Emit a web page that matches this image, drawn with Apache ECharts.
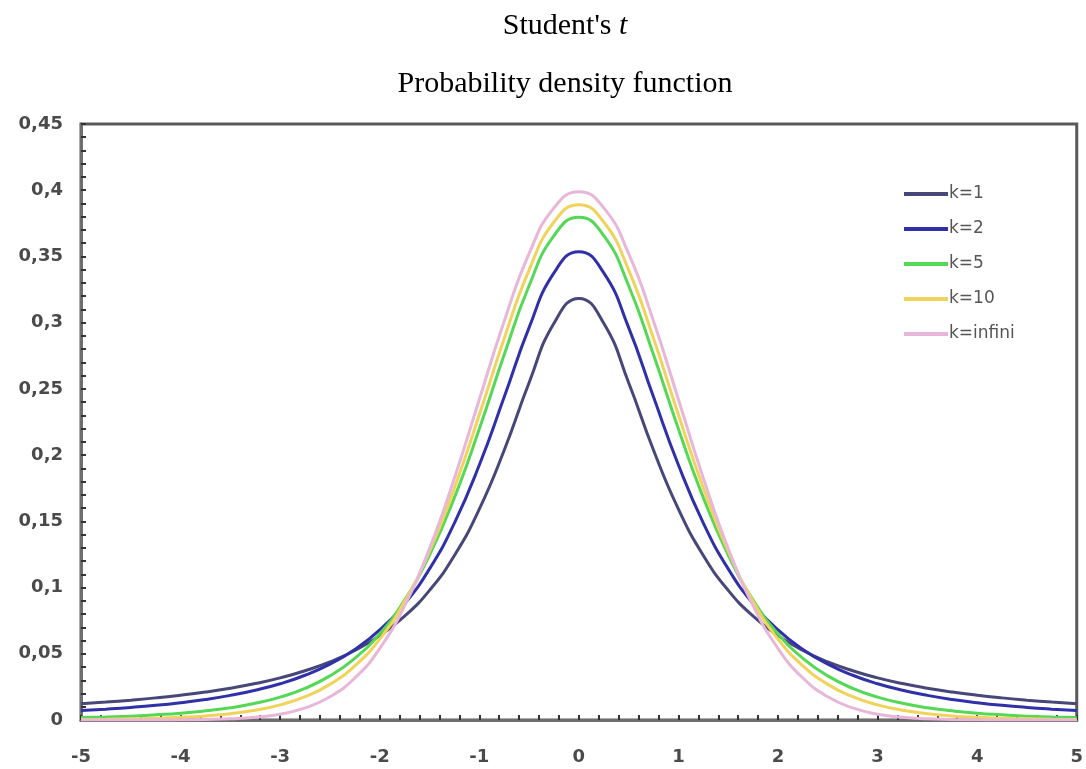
<!DOCTYPE html>
<html>
<head>
<meta charset="utf-8">
<script src="https://cdn.jsdelivr.net/npm/echarts@6.0.0/dist/echarts.min.js"></script>
<style>
  html, body { margin: 0; padding: 0; background: #fff; }
  #chart { width: 1086px; height: 769px; }
</style>
</head>
<body>
<div id="chart"></div>
<script>
// t values along the x axis
const xValues = [
  -5, -4.75, -4.5, -4.25, -4, -3.75, -3.5, -3.25, -3, -2.75, -2.5, -2.25, -2, -1.75, -1.5, -1.25, -1, -0.75, -0.5, -0.25,
  0, 0.25, 0.5, 0.75, 1, 1.25, 1.5, 1.75, 2, 2.25, 2.5, 2.75, 3, 3.25, 3.5, 3.75, 4, 4.25, 4.5, 4.75, 5
];

// densities
const k1 = [
  0.0122, 0.0135, 0.0150, 0.0167, 0.0187, 0.0211, 0.0240, 0.0275, 0.0318, 0.0372, 0.0439, 0.0525, 0.0637, 0.0784, 0.0979, 0.1242, 0.1592, 0.2037, 0.2546, 0.2996,
  0.3183, 0.2996, 0.2546, 0.2037, 0.1592, 0.1242, 0.0979, 0.0784, 0.0637, 0.0525, 0.0439, 0.0372, 0.0318, 0.0275, 0.0240, 0.0211, 0.0187, 0.0167, 0.0150, 0.0135, 0.0122
];
const k2 = [
  0.0071, 0.0082, 0.0095, 0.0111, 0.0131, 0.0155, 0.0186, 0.0225, 0.0274, 0.0338, 0.0422, 0.0533, 0.0680, 0.0878, 0.1141, 0.1487, 0.1925, 0.2438, 0.2963, 0.3376,
  0.3536, 0.3376, 0.2963, 0.2438, 0.1925, 0.1487, 0.1141, 0.0878, 0.0680, 0.0533, 0.0422, 0.0338, 0.0274, 0.0225, 0.0186, 0.0155, 0.0131, 0.0111, 0.0095, 0.0082, 0.0071
];
const k5 = [
  0.0018, 0.0023, 0.0029, 0.0039, 0.0051, 0.0069, 0.0092, 0.0126, 0.0173, 0.0239, 0.0333, 0.0466, 0.0651, 0.0905, 0.1245, 0.1679, 0.2197, 0.2757, 0.3279, 0.3657,
  0.3796, 0.3657, 0.3279, 0.2757, 0.2197, 0.1679, 0.1245, 0.0905, 0.0651, 0.0466, 0.0333, 0.0239, 0.0173, 0.0126, 0.0092, 0.0069, 0.0051, 0.0039, 0.0029, 0.0023, 0.0018
];
const k10 = [
  0.0004, 0.0006, 0.0009, 0.0013, 0.0020, 0.0031, 0.0048, 0.0074, 0.0114, 0.0176, 0.0269, 0.0409, 0.0611, 0.0895, 0.1274, 0.1751, 0.2304, 0.2880, 0.3397, 0.3760,
  0.3891, 0.3760, 0.3397, 0.2880, 0.2304, 0.1751, 0.1274, 0.0895, 0.0611, 0.0409, 0.0269, 0.0176, 0.0114, 0.0074, 0.0048, 0.0031, 0.0020, 0.0013, 0.0009, 0.0006, 0.0004
];
const kInf = [
  0.0000, 0.0000, 0.0000, 0.0000, 0.0001, 0.0004, 0.0009, 0.0020, 0.0044, 0.0091, 0.0175, 0.0317, 0.0540, 0.0863, 0.1295, 0.1826, 0.2420, 0.3011, 0.3521, 0.3867,
  0.3989, 0.3867, 0.3521, 0.3011, 0.2420, 0.1826, 0.1295, 0.0863, 0.0540, 0.0317, 0.0175, 0.0091, 0.0044, 0.0020, 0.0009, 0.0004, 0.0001, 0.0000, 0.0000, 0.0000, 0.0000
];

const seriesNames = ["k=1", "k=2", "k=5", "k=10", "k=infini"];
const seriesValues = [k1, k2, k5, k10, kInf];
const seriesColors = ["#47477a", "#3030a8", "#55d855", "#f0d35a", "#e8b6d8"];

const chart = echarts.init(document.getElementById("chart"));

const tickStyle = { show: true, inside: true, length: 5, lineStyle: { color: "#333", width: 2 } };
const labelFont = { color: "#4a4a4a", fontFamily: "DejaVu Sans", fontSize: 18, fontWeight: "bold" };

chart.setOption({
  backgroundColor: "#fff",
  animation: false,
  title: [
    {
      text: "Student's {i|t}",
      left: 560,
      top: 6,
      textAlign: "center",
      textStyle: {
        fontFamily: "Liberation Serif",
        fontSize: 30,
        fontWeight: "normal",
        color: "#000",
        rich: {
          i: { fontFamily: "Liberation Serif", fontSize: 30, fontStyle: "italic", color: "#000" },
        },
      },
    },
    {
      text: "Probability density function",
      left: 560,
      top: 64,
      textAlign: "center",
      textStyle: { fontFamily: "Liberation Serif", fontSize: 30, fontWeight: "normal", color: "#000" },
    },
  ],
  legend: {
    orient: "vertical",
    left: 899,
    top: 179,
    icon: "rect",
    itemWidth: 44,
    itemHeight: 4,
    itemGap: 15,
    data: seriesNames,
    textStyle: { color: "#555", fontFamily: "DejaVu Sans", fontSize: 17, lineHeight: 20, padding: [0, 0, 0, -4] },
  },
  grid: {
    left: 81,
    right: 9,
    top: 124,
    bottom: 49,
    show: true,
    borderColor: "#5a5a5a",
    borderWidth: 3,
  },
  xAxis: {
    type: "value",
    min: -5,
    max: 5,
    interval: 1,
    axisLine: { lineStyle: { color: "#6e6e6e", width: 3 } },
    axisTick: tickStyle,
    minorTick: { show: true, splitNumber: 5, length: 5, lineStyle: { color: "#333", width: 2 } },
    axisLabel: { ...labelFont, margin: 28 },
    splitLine: { show: false },
  },
  yAxis: {
    type: "value",
    min: 0,
    max: 0.45,
    interval: 0.05,
    axisLine: { show: true, onZero: false, lineStyle: { color: "#6e6e6e", width: 3 } },
    axisTick: tickStyle,
    minorTick: { show: true, splitNumber: 5, length: 5, lineStyle: { color: "#333", width: 2 } },
    axisLabel: {
      ...labelFont,
      margin: 18,
      formatter: (v) => String(Math.round(v * 100) / 100).replace(".", ","),
    },
    splitLine: { show: false },
  },
  series: seriesNames.map((name, s) => ({
    name,
    type: "line",
    smooth: 0.5,
    smoothMonotone: "none",
    showSymbol: false,
    color: seriesColors[s],
    lineStyle: { width: 3 },
    data: xValues.map((x, i) => [x, seriesValues[s][i]]),
  })),
});
</script>
</body>
</html>
